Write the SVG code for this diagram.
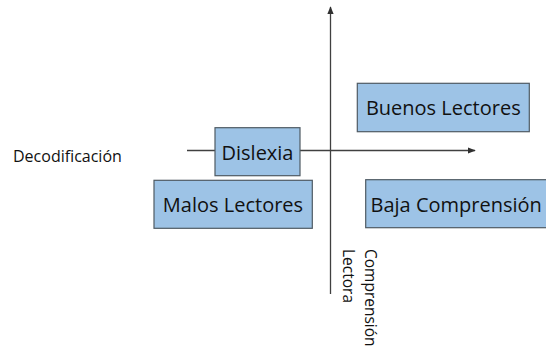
<svg xmlns="http://www.w3.org/2000/svg" width="546" height="349" viewBox="0 0 546 349">
<style>
.box{fill:#9DC3E6;stroke:#4F5A63;stroke-width:1.2}
.lbl{font-family:"Open Sans","Liberation Sans",sans-serif;font-size:20px;fill:#111}
.ax{font-family:"Open Sans","Liberation Sans",sans-serif;font-size:15.5px;fill:#111}
.line{stroke:#404040;stroke-width:1.3;fill:none}
</style>
<defs>
<marker id="arr" viewBox="0 0 10 10" refX="9" refY="5" markerWidth="8" markerHeight="8" markerUnits="userSpaceOnUse" orient="auto">
<path d="M0,1 L10,5 L0,9 Z" fill="#303030"/>
</marker>
</defs>
<rect width="546" height="349" fill="#fff"/>
<g id="connectors">
<line class="line" x1="187" y1="150.5" x2="475" y2="150.5" marker-end="url(#arr)"/>
<line class="line" x1="330.5" y1="294" x2="330.5" y2="7" marker-end="url(#arr)"/>
</g>
<g id="decodificacion">
<text class="ax" x="13" y="162" style="font-size:16px">Decodificación</text>
</g>
<g id="comprension-lectora">
<text class="ax" transform="translate(364.5,249) rotate(90)"><tspan x="0" y="0">Comprensión</tspan><tspan x="0" y="21.5">Lectora</tspan></text>
</g>
<g id="buenos">
<rect class="box" x="357.3" y="83.3" width="172" height="48.4"/>
<text class="lbl" x="443.3" y="115" text-anchor="middle">Buenos Lectores</text>
</g>
<g id="dislexia">
<rect class="box" x="215" y="127.7" width="85" height="48"/>
<text class="lbl" x="257.5" y="160" text-anchor="middle">Dislexia</text>
</g>
<g id="malos">
<rect class="box" x="154" y="180.3" width="158.3" height="48"/>
<text class="lbl" x="233" y="212" text-anchor="middle">Malos Lectores</text>
</g>
<g id="baja">
<rect class="box" x="365.7" y="179.7" width="190" height="48"/>
<text class="lbl" x="370.5" y="212">Baja Comprensión</text>
</g>
</svg>
